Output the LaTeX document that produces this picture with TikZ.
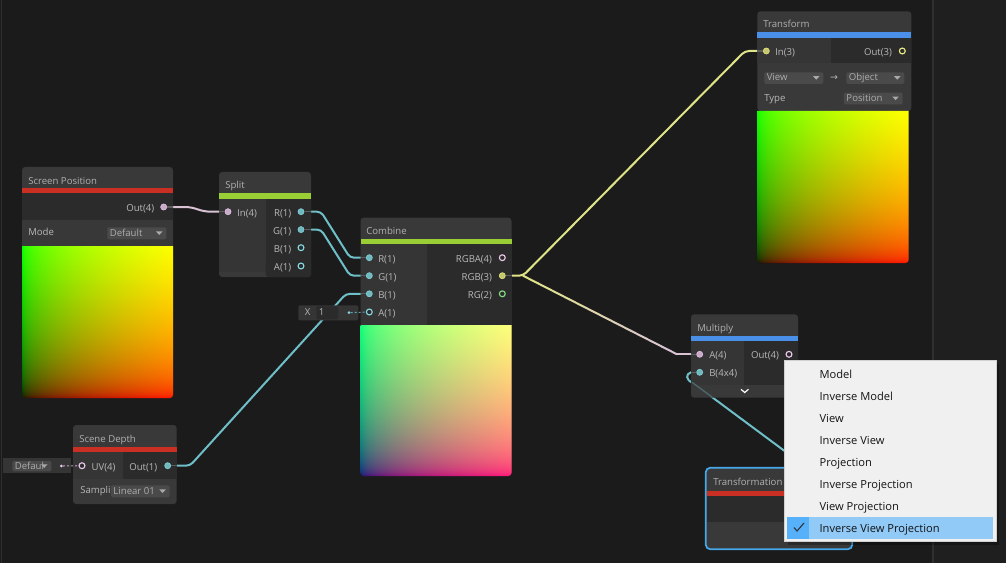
\documentclass[tikz,border=0pt]{standalone}
\usepackage{fontspec}
\setmainfont{Open Sans}
\newfontfamily\menufont{Open Sans}
\usetikzlibrary{calc}
\definecolor{bgc}{HTML}{1B1B1B}
\definecolor{sidec}{HTML}{1F1F1F}
\definecolor{linec}{HTML}{2F2F2F}
\definecolor{cardc}{HTML}{393939}
\definecolor{darkc}{HTML}{2B2B2B}
\definecolor{colc}{HTML}{353535}
\definecolor{ctrlc}{HTML}{383838}
\definecolor{ddc}{HTML}{4A4A4A}
\definecolor{txtc}{HTML}{B8B8B8}
\definecolor{redbar}{HTML}{C92F22}
\definecolor{greenbar}{HTML}{99CF35}
\definecolor{bluebar}{HTML}{4A90E8}
\definecolor{selc}{HTML}{46A8E8}
\definecolor{cyanw}{HTML}{6FBFC8}
\definecolor{cyanp}{HTML}{84D8E0}
\definecolor{pinkw}{HTML}{D8C2D4}
\definecolor{pinkp}{HTML}{EBC8EB}
\definecolor{yelw}{HTML}{E0E488}
\definecolor{yelp}{HTML}{E8EA80}
\definecolor{greenp}{HTML}{84DC84}
\definecolor{stub}{HTML}{5C5C5C}
\definecolor{menuc}{HTML}{F0F0F0}
\definecolor{hic}{HTML}{91C9F7}
\definecolor{hicd}{HTML}{56B0FA}
\pgfdeclarefunctionalshading{uvrg}{\pgfpoint{-50bp}{-50bp}}{\pgfpoint{50bp}{50bp}}{}{
  25 add 50 div abs 0.45 exp exch 25 add 50 div abs 0.45 exp exch 0 }
\pgfdeclarefunctionalshading{uvrgb}{\pgfpoint{-50bp}{-50bp}}{\pgfpoint{50bp}{50bp}}{}{
  25 add 50 div abs 0.45 exp exch 25 add 50 div abs 0.45 exp exch 0.48 }
\pgfdeclarelayer{bgl}
\pgfdeclarelayer{back}
\pgfsetlayers{bgl,back,main}
\tikzset{
  card/.style={fill=cardc,rounded corners=2.4pt,inner sep=0pt,outer sep=0pt,anchor=north west},
  lbl/.style={text=txtc,inner sep=0pt,text height=5.5pt,text depth=1.5pt,font=\fontsize{7.2}{8}\selectfont},
  ttl/.style={lbl,text=txtc!110!white,anchor=west},
  wire/.style={line width=1.5pt,rounded corners=3pt},
  conn/.style={circle,inner sep=0pt,minimum size=4.6pt,fill=#1!85!black,draw=#1,line width=.4pt},
  opn/.style={circle,inner sep=0pt,minimum size=4.4pt,fill=darkc,draw=#1,line width=.85pt},
  menuitem/.style={inner sep=0pt,anchor=west,text height=7pt,text depth=2pt,text=black!92,font=\menufont\fontsize{8.35}{10}\selectfont},
}
% name x y w h
\newcommand\cardn[5]{\node[card,minimum width=#4*0.75pt,minimum height=#5*0.75pt] (#1) at (#2,#3) {};}
% name x1 y1 x2 y2 text
\newcommand\ddn[6]{\node[fill=ddc,rounded corners=1pt,inner sep=0pt,anchor=north west,minimum width={(#4-#2)*0.75pt},minimum height={(#5-#3)*0.75pt}] (#1) at (#2,#3) {};
  \node[lbl,anchor=west,text=txtc!115!white] (#1-t) at (#2+2.5,{(#3+#5)/2+.5}) {#6};
  \fill[txtc!120!white] (#4-10,{(#3+#5)/2-1.6}) -- (#4-3.5,{(#3+#5)/2-1.6}) -- (#4-6.75,{(#3+#5)/2+2}) -- cycle;}
\newcommand\portL[6]{\node[#1] (#2) at (#3,#4) {}; \node[lbl,anchor=west] (#2-t) at (#5,#4+2) {#6};}
\newcommand\portR[6]{\node[#1] (#2) at (#3,#4) {}; \node[lbl,anchor=east] (#2-t) at (#5,#4+2) {#6};}
\begin{document}
\begin{tikzpicture}[x=0.75pt,y=-0.75pt]
\useasboundingbox (0,0) rectangle (1006,563);
\begin{pgfonlayer}{bgl}
\fill[bgc] (0,0) rectangle (1006,563);
\fill[sidec] (934,0) rectangle (1006,563);
\fill[linec] (932,0) rectangle (934,563);
\fill[linec] (1,0) rectangle (2.4,563);
\end{pgfonlayer}

% ---------- Screen Position
\cardn{sp}{22}{167}{151}{231}
\fill[redbar] (22,188) rectangle (173,193);
\fill[darkc] (22,193) rectangle (173,220);
\fill[ctrlc] (22,220) rectangle (173,246);
\node[ttl] (sp-title) at (28,181.5) {Screen Position};
\node[lbl,anchor=west] (sp-mode) at (28,233) {Mode};
\ddn{spdd}{107}{227}{166}{239}{Default}
\shade[shading=uvrg] (22,246) -- (173,246) {[rounded corners=2.4pt] -- (173,398) -- (22,398)} -- cycle;
\portR{conn=pinkp}{spout}{163.7}{207}{154.5}{Out(4)}

% ---------- Split
\cardn{sl}{219}{172}{92}{105}
\fill[greenbar] (219,193) rectangle (311,199);
\fill[colc] (219,199) rectangle (265.5,272);
\fill[darkc] (265.5,199) rectangle (311,272);
\fill[darkc,rounded corners=2.4pt] (265.5,260) -- (265.5,277) -- (311,277) -- (311,260) -- cycle;
\node[ttl] (sl-title) at (225,186) {Split};
\portL{conn=pinkp}{slin}{228}{211.7}{237}{In(4)}
\portR{conn=cyanp}{slr}{301}{211.7}{291.5}{R(1)}
\portR{conn=cyanp}{slg}{301}{229.6}{291.5}{G(1)}
\portR{opn=cyanp}{slb}{301}{247.7}{291.5}{B(1)}
\portR{opn=cyanp}{sla}{301}{266}{291.5}{A(1)}

% ---------- Combine
\cardn{cb}{360.5}{217.7}{151}{258.3}
\fill[greenbar] (360.5,238.7) rectangle (511.5,244.3);
\fill[colc] (360.5,244.3) rectangle (427,324.5);
\fill[darkc] (427,244.3) rectangle (511.5,324.5);
\node[ttl] (cb-title) at (366,232) {Combine};
\shade[shading=uvrgb] (360.5,325) -- (511.5,325) {[rounded corners=2.4pt] -- (511.5,476) -- (360.5,476)} -- cycle;
\portL{conn=cyanp}{cbr}{369.3}{257.7}{378}{R(1)}
\portL{conn=cyanp}{cbg}{369.3}{275.7}{378}{G(1)}
\portL{conn=cyanp}{cbb}{369.3}{293.8}{378}{B(1)}
\portL{opn=cyanp}{cba}{369.3}{312}{378}{A(1)}
\portR{opn=pinkp}{cbo1}{502.3}{257.7}{492.3}{RGBA(4)}
\portR{conn=yelp}{cbo2}{502.3}{275.7}{492.3}{RGB(3)}
\portR{opn=greenp}{cbo3}{502.3}{293.8}{492.3}{RG(2)}

% inline X 1
\node[fill=colc,rounded corners=1pt,inner sep=0pt,anchor=north west,minimum width=60*0.75pt,minimum height=15*0.75pt] (xbox) at (298,305) {};
\node[lbl,anchor=center] (xlab) at (307.7,313) {X};
\node[fill=darkc,rounded corners=1pt,inner sep=0pt,anchor=north west,minimum width=22*0.75pt,minimum height=13*0.75pt] (xfield) at (316,306) {};
\node[lbl,anchor=west] (xval) at (318.5,313) {1};
\node[circle,fill=cyanp,inner sep=0pt,minimum size=2.2pt] (xdot) at (349,312.7) {};
\draw[cyanp!75!black,line width=.8pt,dash pattern=on 1.5pt off 1.5pt] (xdot) -- (cba);

% ---------- Scene Depth
\cardn{sd}{73}{425}{103.7}{79}
\fill[redbar] (73,446.7) rectangle (176.7,452.3);
\fill[colc] (73,452.3) rectangle (122.7,478.7);
\fill[darkc] (122.7,452.3) rectangle (176.7,478.7);
\node[ttl] (sd-title) at (79,440.3) {Scene Depth};
\portL{opn=pinkp}{sduv}{82}{465.7}{91.3}{UV(4)}
\portR{conn=cyanp}{sdout}{167.7}{465.7}{157.5}{Out(1)}
\node[lbl,anchor=west] (sd-samp) at (80,491.3) {Sampli};
\ddn{sddd}{110.7}{485}{169.3}{497}{Linear 01}
% inline Default
\node[fill=colc,inner sep=0pt,anchor=north west,minimum width=68*0.75pt,minimum height=15*0.75pt] (dbox) at (2.7,458) {};
\ddn{dfdd}{12}{460.7}{51}{471}{Defaul}
\node[circle,fill=pinkp,inner sep=0pt,minimum size=2.2pt] (ddot) at (61.3,466) {};
\draw[pinkp!80!black,line width=.8pt,dash pattern=on 1.5pt off 1.5pt] (ddot) -- (sduv);

% ---------- Transform
\cardn{tf}{757.3}{11.3}{154}{99.7}
\fill[bluebar] (757.3,32.3) rectangle (911.3,37.7);
\fill[colc] (757.3,37.7) rectangle (830.7,63.3);
\fill[darkc] (830.7,37.7) rectangle (911.3,63.3);
\node[ttl] (tf-title) at (763,25) {Transform};
\portL{conn=yelp}{tfin}{766.3}{51}{775}{In(3)}
\portR{opn=yelp}{tfout}{902.3}{51}{892.3}{Out(3)}
\ddn{tfd1}{764}{72}{823}{83.5}{View}
\ddn{tfd2}{846}{72}{904}{83.5}{Object}
\node[lbl,anchor=center] (tfarrow) at (834,78) {\fontspec{DejaVu Sans}\fontsize{7}{8}\selectfont →};
\node[lbl,anchor=west] (tf-type) at (764,99) {Type};
\ddn{tfd3}{843.7}{92.3}{902.3}{104}{Position}
\shade[shading=uvrg] (757.3,111) -- (908.7,111) {[rounded corners=2.4pt] -- (908.7,263) -- (757.3,263)} -- cycle;

% ---------- Multiply
\cardn{mu}{691}{314.3}{107}{83.4}
\fill[bluebar] (691,335.7) rectangle (798,341);
\fill[colc] (691,341) rectangle (744,385);
\fill[darkc] (744,341) rectangle (798,385);
\node[ttl] (mu-title) at (697,328.6) {Multiply};
\portL{conn=pinkp}{mua}{699.7}{354.3}{709}{A(4)}
\portL{conn=cyanp}{mub}{699.7}{372.3}{709}{B(4x4)}
\portR{opn=pinkp}{muo}{789}{354.3}{779.3}{Out(4)}
\draw[white,line width=.9pt] (741,389.3) coordinate (chev1) -- (744.7,392.5) -- (748.4,389.3);

% ---------- Transformation
\node[card,fill=cardc,draw=selc,line width=1.3pt,minimum width=146.6*0.75pt,minimum height=81.6*0.75pt,rounded corners=3.5pt] (tm) at (705.7,467.7) {};
\fill[redbar] (706.5,490.7) rectangle (851.5,496);
\fill[darkc] (706.5,496) rectangle (851.5,521.7);
\node[ttl] (tm-title) at (713,483.3) {Transformation};
\coordinate (tmhid) at (825,481);

% ---------- Wires
\begin{pgfonlayer}{back}
  \draw[pinkw,line width=1.5pt] (spout) -- (184,207) .. controls (197,207) and (198,211.7) .. (212,211.7) -- (slin);
  \draw[wire,cyanw] (slr) -- (321,211.7) -- (350,257.7) -- (cbr);
  \draw[wire,cyanw] (slg) -- (321,229.6) -- (350,275.7) -- (cbg);
  \draw[wire,cyanw] (sdout) -- (190,465.7) -- (346,293.8) -- (cbb);
  \draw[wire,yelw] (cbo2) -- (523,275.7) -- (745,51) -- (tfin);
  \coordinate (fork) at (523,275.7);
  \coordinate (bend) at (677,354.3);
  \foreach \i in {0,...,9}{
    \pgfmathtruncatemacro{\p}{100-\i*11}
    \draw[line width=1.5pt,line cap=round,yelw!\p!pinkw] ($(fork)!\i/10!(bend)$) -- ($(fork)!\i/10+0.1!(bend)$);
  }
  \draw[wire,pinkw] (bend) -- (mua);
  \draw[line width=1.5pt,cyanw] (mub) -- (691,372.3) .. controls (685.5,374) and (685.5,380) .. (693,383) -- (tmhid);
\end{pgfonlayer}
% stubs and the wire seen through the Multiply card
\draw[stub,line width=.9pt] (cbo2.east) -- (511.5,275.7);
\draw[stub,line width=.9pt] (slr.east) -- (311,211.7);
\draw[stub,line width=.9pt] (slg.east) -- (311,229.6);
\draw[stub,line width=.9pt] (cbr.west) -- (360.5,257.7);
\draw[stub,line width=.9pt] (cbg.west) -- (360.5,275.7);
\draw[stub,line width=.9pt] (cbb.west) -- (360.5,293.8);
\draw[stub,line width=.9pt] (spout.east) -- (173,207);
\draw[stub,line width=.9pt] (slin.west) -- (219,211.7);
\draw[stub,line width=.9pt] (sdout.east) -- (176.7,465.7);
\draw[stub,line width=.9pt] (tfin.west) -- (757.3,51);
\draw[stub,line width=.9pt] (mua.west) -- (691,354.3);
\draw[stub,line width=.9pt] (mub.west) -- (691,372.3);
\draw[cyanw!35!cardc,line width=1pt] (692,382.3) -- (712,397);

% ---------- Menu
\fill[black,opacity=.28] (788,364) rectangle (999,545);
\node[fill=menuc,draw=black!18,line width=.6pt,inner sep=0pt,anchor=north west,minimum width=211.4*0.75pt,minimum height=181*0.75pt] (menu) at (784.3,360) {};
\node[fill=hic,inner sep=0pt,anchor=north west,minimum width=206*0.75pt,minimum height=22*0.75pt] (hi) at (787,517) {};
\node[fill=hicd,inner sep=0pt,anchor=north west,minimum width=22*0.75pt,minimum height=22*0.75pt] (hichk) at (787,517) {};
\draw[black!80,line width=.8pt] (794,527.5) -- (797,531) -- (804,523);
\node[menuitem] (m1) at (819.3,375) {Model};
\node[menuitem] (m2) at (819.3,397) {Inverse Model};
\node[menuitem] (m3) at (819.3,419) {View};
\node[menuitem] (m4) at (819.3,441) {Inverse View};
\node[menuitem] (m5) at (819.3,463) {Projection};
\node[menuitem] (m6) at (819.3,485) {Inverse Projection};
\node[menuitem] (m7) at (819.3,507) {View Projection};
\node[menuitem] (m8) at (819.3,529) {Inverse View Projection};
\end{tikzpicture}
\end{document}
